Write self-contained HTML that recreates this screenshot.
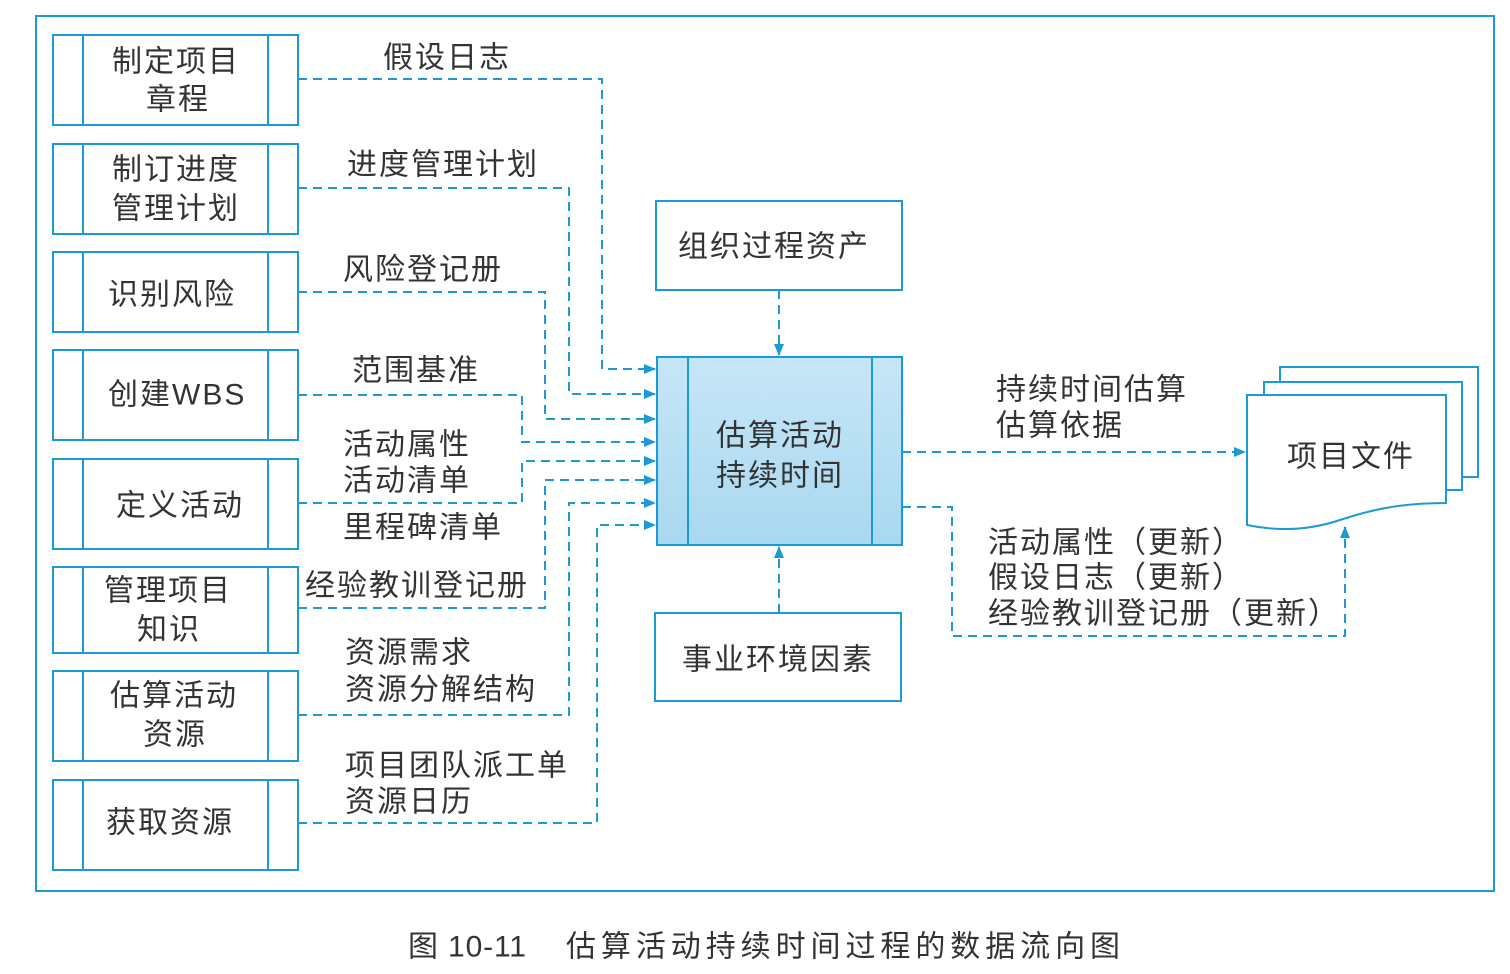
<!DOCTYPE html>
<html><head><meta charset="utf-8"><style>
html,body{margin:0;padding:0;background:#fff;}
svg{display:block;}
text{font-family:"Liberation Sans","Noto Sans CJK SC",sans-serif;fill:#333;font-size:30px;}
</style></head><body>
<svg width="1510" height="974" viewBox="0 0 1510 974" xmlns="http://www.w3.org/2000/svg">
<defs>
<marker id="a" markerWidth="12" markerHeight="10" refX="11" refY="5" orient="auto" markerUnits="userSpaceOnUse">
<path d="M0,0 L12,5 L0,10 Z" fill="#1c9ad6"/></marker>
<linearGradient id="g" x1="0" y1="0" x2="0" y2="1">
<stop offset="0" stop-color="#c6e6f7"/><stop offset="1" stop-color="#a9d8f1"/></linearGradient>
</defs>
<rect x="36" y="16" width="1458" height="875" fill="none" stroke="#1c9ad6" stroke-width="2"/>
<g fill="none" stroke="#1c9ad6" stroke-width="2">
<rect x="53" y="35" width="245" height="90"/><line x1="83" y1="35" x2="83" y2="125"/><line x1="268" y1="35" x2="268" y2="125"/>
<rect x="53" y="144" width="245" height="90"/><line x1="83" y1="144" x2="83" y2="234"/><line x1="268" y1="144" x2="268" y2="234"/>
<rect x="53" y="252" width="245" height="80"/><line x1="83" y1="252" x2="83" y2="332"/><line x1="268" y1="252" x2="268" y2="332"/>
<rect x="53" y="350" width="245" height="90"/><line x1="83" y1="350" x2="83" y2="440"/><line x1="268" y1="350" x2="268" y2="440"/>
<rect x="53" y="459" width="245" height="90"/><line x1="83" y1="459" x2="83" y2="549"/><line x1="268" y1="459" x2="268" y2="549"/>
<rect x="53" y="567" width="245" height="86"/><line x1="83" y1="567" x2="83" y2="653"/><line x1="268" y1="567" x2="268" y2="653"/>
<rect x="53" y="671" width="245" height="90"/><line x1="83" y1="671" x2="83" y2="761"/><line x1="268" y1="671" x2="268" y2="761"/>
<rect x="53" y="780" width="245" height="90"/><line x1="83" y1="780" x2="83" y2="870"/><line x1="268" y1="780" x2="268" y2="870"/>
<rect x="656" y="201" width="246" height="89"/>
<rect x="655" y="613" width="246" height="88"/>
</g>
<rect x="657" y="357" width="245" height="188" fill="url(#g)" stroke="#1c9ad6" stroke-width="2"/>
<line x1="688" y1="357" x2="688" y2="545" stroke="#1c9ad6" stroke-width="2"/>
<line x1="872" y1="357" x2="872" y2="545" stroke="#1c9ad6" stroke-width="2"/>
<g fill="#fff" stroke="#1c9ad6" stroke-width="2">
<rect x="1280" y="367" width="198" height="110"/>
<rect x="1264" y="382" width="198" height="108"/>
<path d="M1247,395 L1446,395 L1446,503 C1400,503 1370,510 1340,520 C1310,530 1280,532 1247,525 Z"/>
</g>
<g fill="none" stroke="#1c9ad6" stroke-width="2" stroke-dasharray="9,6">
<path d="M298,79 H602 V369 H655" marker-end="url(#a)"/>
<path d="M298,188 H569 V394 H655" marker-end="url(#a)"/>
<path d="M298,292 H545 V419 H655" marker-end="url(#a)"/>
<path d="M298,395 H522 V442 H655" marker-end="url(#a)"/>
<path d="M298,503 H522 V461 H655" marker-end="url(#a)"/>
<path d="M298,608 H545 V480 H655" marker-end="url(#a)"/>
<path d="M298,715 H569 V503 H655" marker-end="url(#a)"/>
<path d="M298,823 H597 V525 H655" marker-end="url(#a)"/>
<path d="M779,290 V355" marker-end="url(#a)"/>
<path d="M779,613 V547" marker-end="url(#a)"/>
<path d="M902,452 H1245" marker-end="url(#a)"/>
<path d="M902,507 H952 V636 H1345 V527" marker-end="url(#a)"/>
</g>
<g dominant-baseline="central" letter-spacing="2">
<text x="112" y="62">制定项目</text><text x="146" y="100">章程</text>
<text x="112" y="170">制订进度</text><text x="112" y="209">管理计划</text>
<text x="108" y="295">识别风险</text>
<text x="108" y="395">创建WBS</text>
<text x="116" y="506">定义活动</text>
<text x="104" y="591">管理项目</text><text x="137" y="630">知识</text>
<text x="110" y="696">估算活动</text><text x="143" y="735">资源</text>
<text x="106" y="823">获取资源</text>
<text x="383" y="58">假设日志</text>
<text x="347" y="165">进度管理计划</text>
<text x="343" y="270">风险登记册</text>
<text x="352" y="371">范围基准</text>
<text x="343" y="445">活动属性</text><text x="343" y="481">活动清单</text>
<text x="343" y="528">里程碑清单</text>
<text x="305" y="586">经验教训登记册</text>
<text x="345" y="653">资源需求</text><text x="345" y="690">资源分解结构</text>
<text x="345" y="766">项目团队派工单</text><text x="345" y="802">资源日历</text>
<text x="678" y="247">组织过程资产</text>
<text x="682" y="660">事业环境因素</text>
<text x="716" y="436">估算活动</text><text x="716" y="476">持续时间</text>
<text x="996" y="390">持续时间估算</text><text x="996" y="426">估算依据</text>
<text x="988" y="543">活动属性（更新）</text>
<text x="988" y="578">假设日志（更新）</text>
<text x="988" y="614" textLength="352">经验教训登记册（更新）</text>
<text x="1287" y="457">项目文件</text>
<text x="408" y="947" letter-spacing="0" textLength="118">图 10-11</text>
<text x="566" y="947" textLength="556">估算活动持续时间过程的数据流向图</text>
</g>
</svg>
</body></html>
